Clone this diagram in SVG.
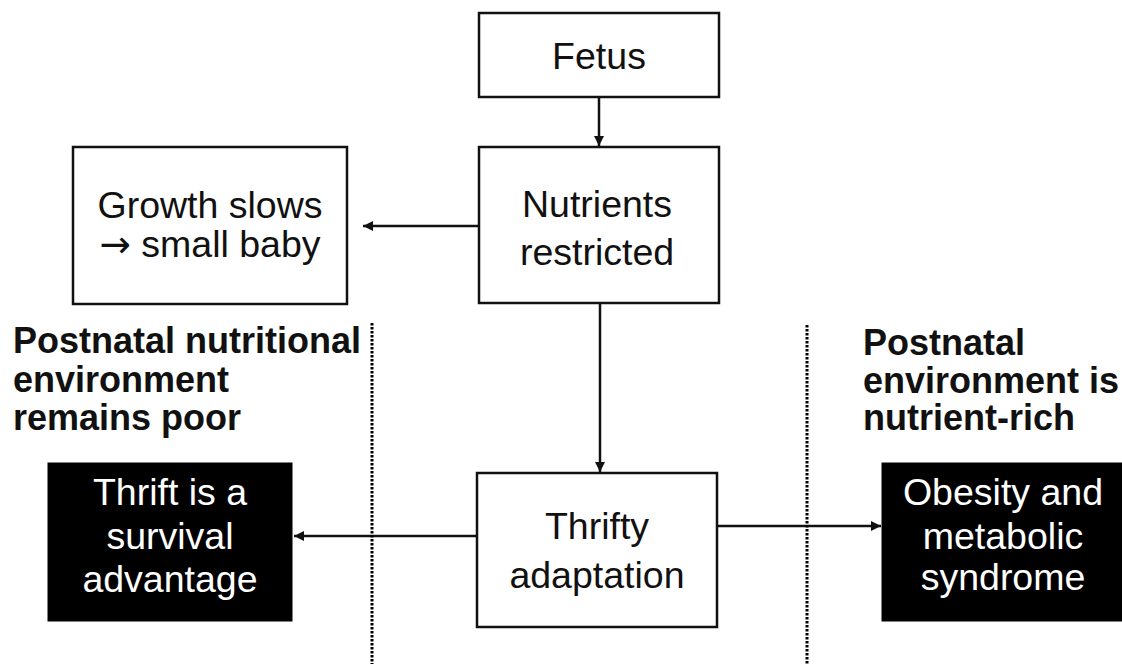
<svg xmlns="http://www.w3.org/2000/svg" width="1122" height="664" viewBox="0 0 1122 664">
<defs>
<style>
.box{fill:#fff;stroke:#111;stroke-width:2.5}
.dark{fill:#000;stroke:#000;stroke-width:1}
.t{font-family:"Liberation Sans",Arial,sans-serif;font-size:37.5px;fill:#111;text-anchor:middle}
.w{font-family:"Liberation Sans",Arial,sans-serif;font-size:37.5px;fill:#fff;text-anchor:middle}
.b{font-family:"Liberation Sans",Arial,sans-serif;font-size:36px;font-weight:bold;fill:#111}
.arr{font-family:"DejaVu Sans",sans-serif}
.c{stroke:#111;stroke-width:2.5;fill:none;marker-end:url(#ah)}
.d{stroke:#000;stroke-width:3;stroke-dasharray:2.5 1.5;fill:none}
</style>
<marker id="ah" viewBox="0 0 10 10" refX="10" refY="5" markerWidth="4" markerHeight="4" orient="auto" markerUnits="strokeWidth">
<path d="M0,0 L10,5 L0,10 z" fill="#111"/>
</marker>
</defs>
<rect width="1122" height="664" fill="#fff"/>
<g id="connectors">
<line class="c" x1="599" y1="97" x2="599" y2="146"/>
<line class="c" x1="479" y1="226" x2="363" y2="226"/>
<line class="c" x1="600" y1="303" x2="600" y2="472"/>
<line class="c" x1="477" y1="536" x2="294" y2="536"/>
<line class="c" x1="717" y1="526" x2="881" y2="526"/>
</g>
<g id="dividers">
<line class="d" x1="372" y1="323" x2="372" y2="664"/>
<line class="d" x1="807" y1="325" x2="807" y2="664"/>
</g>
<g id="fetus">
<rect class="box" x="479" y="13" width="240" height="84"/>
<text class="t" x="599" y="69">Fetus</text>
</g>
<g id="nutrients">
<rect class="box" x="479" y="147" width="240" height="156"/>
<text class="t" x="597" y="217">Nutrients</text>
<text class="t" x="597" y="265">restricted</text>
</g>
<g id="growth">
<rect class="box" x="73" y="147" width="274" height="157"/>
<text class="t" x="210" y="218">Growth slows</text>
<text class="t" x="210" y="257"><tspan class="arr">→</tspan> small baby</text>
</g>
<g id="thrifty">
<rect class="box" x="477" y="473" width="240" height="154"/>
<text class="t" x="597" y="539">Thrifty</text>
<text class="t" x="597" y="588">adaptation</text>
</g>
<g id="label-poor">
<text class="b" x="13" y="353">Postnatal nutritional</text>
<text class="b" x="13" y="392">environment</text>
<text class="b" x="13" y="430">remains poor</text>
</g>
<g id="label-rich">
<text class="b" x="863" y="355">Postnatal</text>
<text class="b" x="863" y="393">environment is</text>
<text class="b" x="863" y="430">nutrient-rich</text>
</g>
<g id="survival">
<rect class="dark" x="48" y="463" width="244" height="158"/>
<text class="w" x="170" y="505">Thrift is a</text>
<text class="w" x="170" y="549">survival</text>
<text class="w" x="170" y="592">advantage</text>
</g>
<g id="obesity">
<rect class="dark" x="882" y="463" width="240" height="158"/>
<text class="w" x="1003" y="505">Obesity and</text>
<text class="w" x="1003" y="549">metabolic</text>
<text class="w" x="1003" y="590">syndrome</text>
</g>
</svg>
